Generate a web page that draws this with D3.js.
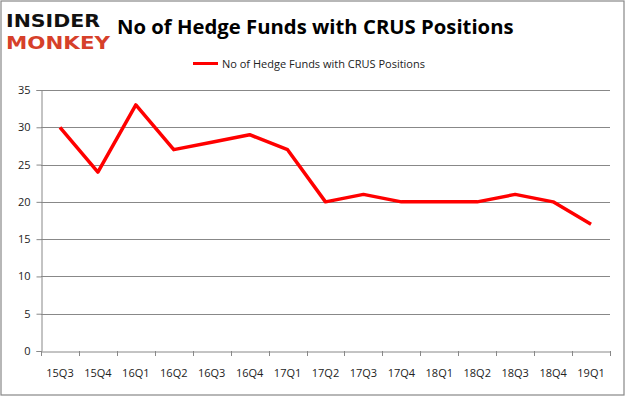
<!DOCTYPE html>
<html><head><meta charset="utf-8">
<script src="https://cdn.jsdelivr.net/npm/d3@7/dist/d3.min.js"></script>
<style>body{margin:0;background:#fff}svg{display:block}</style>
</head><body>
<svg id="c" width="626" height="397"></svg>
<script>
const categories = ["15Q3","15Q4","16Q1","16Q2","16Q3","16Q4","17Q1","17Q2","17Q3","17Q4","18Q1","18Q2","18Q3","18Q4","19Q1"];
const values = [30,24,33,27,28,29,27,20,21,20,20,20,21,20,17];
const yTicks = [0,5,10,15,20,25,30,35];
const seriesName = "No of Hedge Funds with CRUS Positions";
const title = "No of Hedge Funds with CRUS Positions";

const svg = d3.select("#c");
const font = "'Open Sans', 'Noto Sans', sans-serif";
svg.append("rect").attr("x",1).attr("y",1).attr("width",623).attr("height",394)
  .attr("fill","#fff").attr("stroke","#888").attr("stroke-width",1.2);

const m = {l:41, r:610, t:90, b:351};
const x = d3.scaleBand().domain(categories).range([m.l, m.r]);
const y = d3.scaleLinear().domain([0,35]).range([m.b, m.t]);

// gridlines
svg.append("g").selectAll("line").data(yTicks.filter(d=>d>0)).join("line")
  .attr("x1",m.l).attr("x2",m.r).attr("y1",d=>Math.round(y(d))+0.5).attr("y2",d=>Math.round(y(d))+0.5)
  .attr("stroke","#888").attr("stroke-width",1);

// y axis
const ya = svg.append("g").attr("transform",`translate(${m.l+0.5},0)`)
  .call(d3.axisLeft(y).tickValues(yTicks).tickSize(5).tickPadding(6));
ya.select(".domain").attr("stroke","#888");
ya.selectAll(".tick line").attr("stroke","#888");
ya.selectAll(".tick text").attr("font-family",font).attr("font-size",11).attr("fill","#222");

// x axis
const xa = svg.append("g").attr("transform",`translate(0,${Math.round(m.b)+0.5})`)
  .call(d3.axisBottom(x).tickSize(0).tickPadding(18));
xa.select(".domain").attr("stroke","#888");
xa.selectAll(".tick text").attr("font-family",font).attr("font-size",11).attr("fill","#222");
svg.append("g").selectAll("line").data(categories.concat([null])).join("line")
  .attr("x1",(d,i)=>Math.round(m.l + i*x.step())+0.5).attr("x2",(d,i)=>Math.round(m.l + i*x.step())+0.5)
  .attr("y1",m.b).attr("y2",m.b+5).attr("stroke","#888");

// line
const line = d3.line().x((d,i)=>x(categories[i])+x.bandwidth()/2).y(d=>y(d));
svg.append("path").datum(values).attr("d",line).attr("fill","none")
  .attr("stroke","#ff0000").attr("stroke-width",3.5).attr("stroke-linejoin","round");

// title
svg.append("text").attr("x",117).attr("y",34).text(title)
  .attr("font-family",font).attr("font-weight","bold").attr("font-size",20.3).attr("fill","#000");

// legend
svg.append("line").attr("x1",193).attr("x2",218).attr("y1",63.5).attr("y2",63.5)
  .attr("stroke","#ff0000").attr("stroke-width",3);
svg.append("text").attr("x",222).attr("y",67.5).text(seriesName)
  .attr("font-family",font).attr("font-size",11).attr("fill","#222");

// logo
svg.append("text").attr("x",6).attr("y",27).text("INSIDER")
  .attr("font-family","'DejaVu Sans', sans-serif").attr("font-weight","bold").attr("font-size",18)
  .attr("textLength",94).attr("lengthAdjust","spacingAndGlyphs").attr("fill","#111");
svg.append("text").attr("x",6).attr("y",49).text("MONKEY")
  .attr("font-family","'DejaVu Sans', sans-serif").attr("font-weight","bold").attr("font-size",18)
  .attr("textLength",104).attr("lengthAdjust","spacingAndGlyphs").attr("fill","#d6402a");
</script>
</body></html>
